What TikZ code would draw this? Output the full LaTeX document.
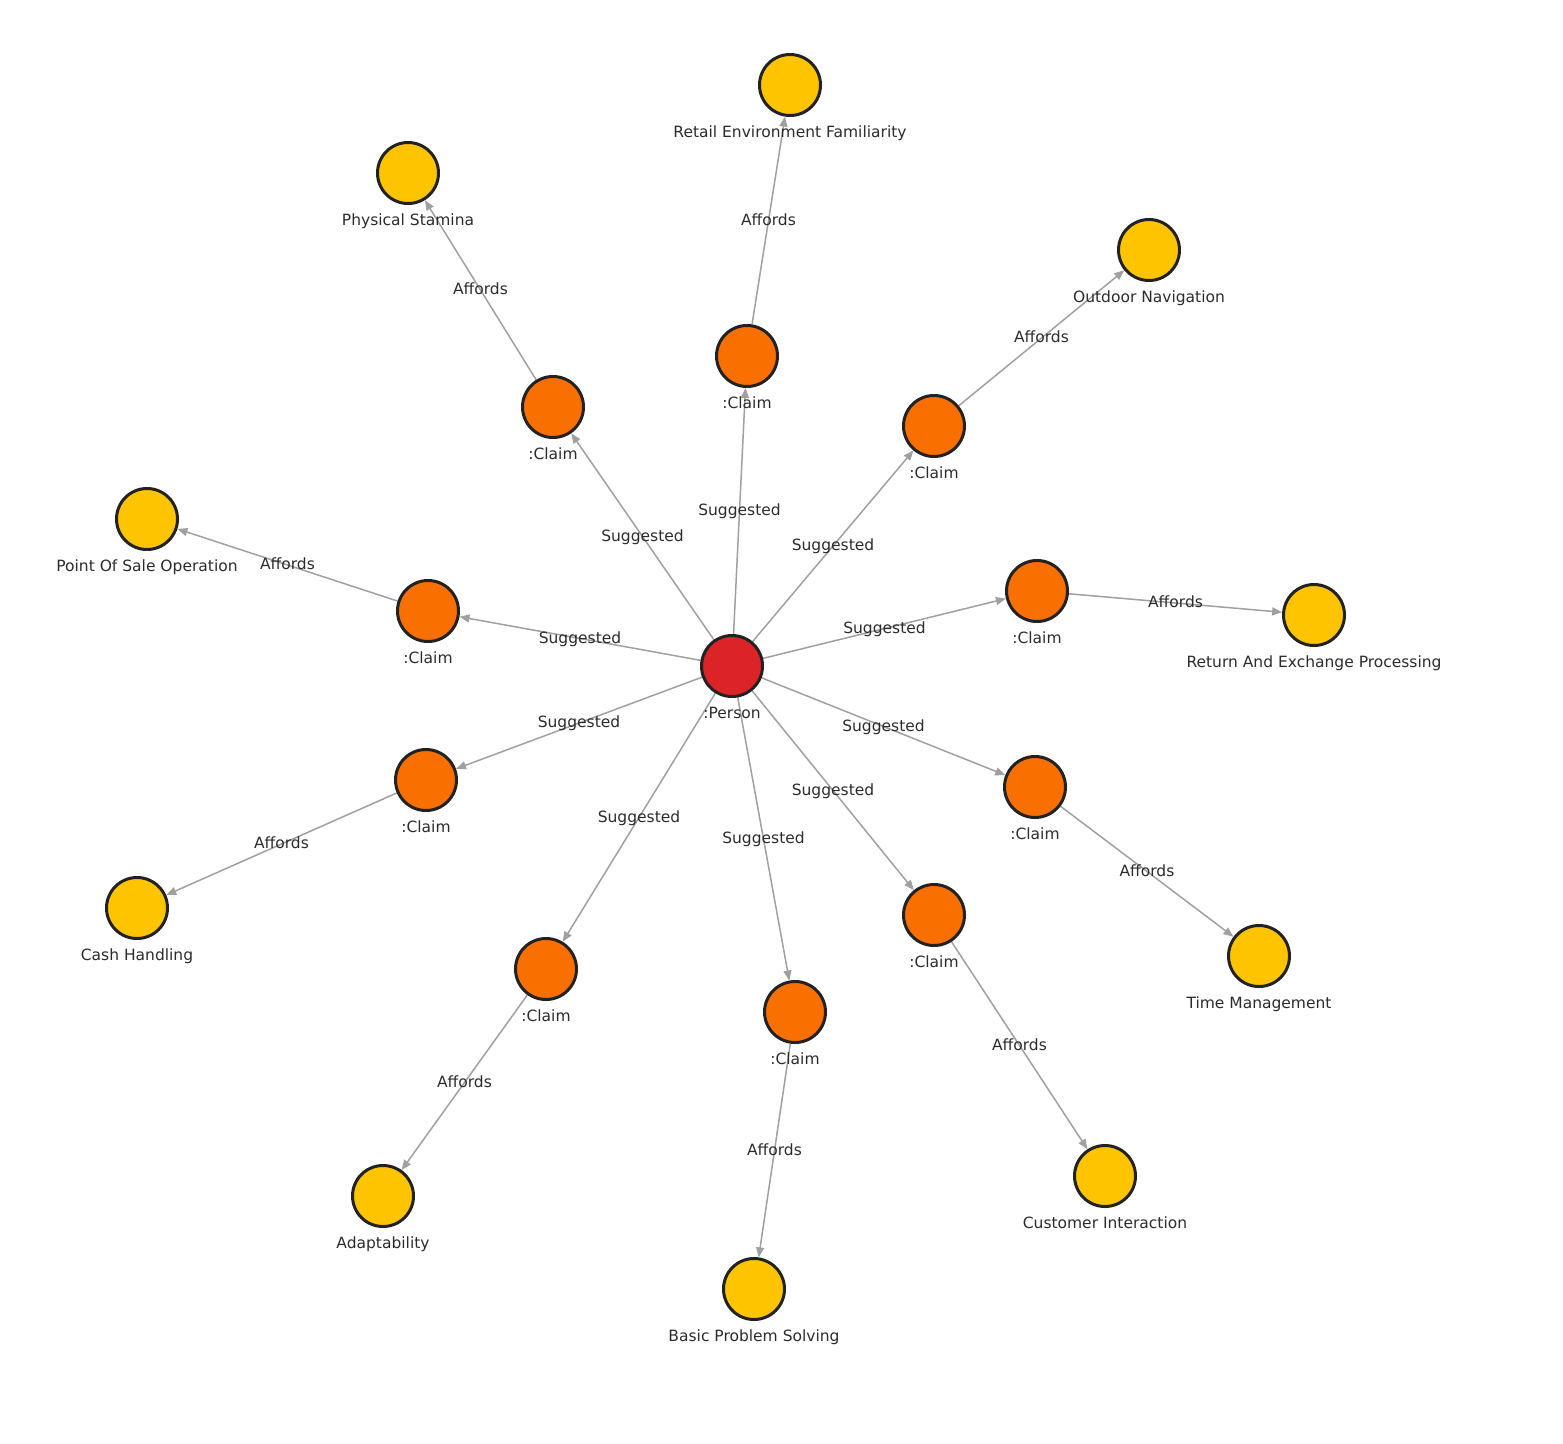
\documentclass[tikz,border=0pt]{standalone}
\usepackage{fontspec}
\setmainfont{DejaVu Sans}
\usetikzlibrary{arrows.meta,backgrounds}
\definecolor{personred}{HTML}{DC2328}
\definecolor{claimorange}{HTML}{F97000}
\definecolor{skillyellow}{HTML}{FFC400}
\definecolor{ringgray}{HTML}{222222}
\definecolor{linkgray}{HTML}{A0A0A0}
\definecolor{textgray}{HTML}{2B2B2B}
\begin{document}
\begin{tikzpicture}[x=1pt,y=-1pt,label distance=9.5pt,
    every node/.style={font=\fontsize{15.5}{18}\selectfont, text=textgray},
    bullet/.style={circle, draw=ringgray, line width=3pt, minimum size=61pt,
              inner sep=0pt},
    tag/.style={text height=11pt, text depth=3.5pt, inner sep=0pt},
    link/.style={draw=linkgray, line width=1.5pt,
              -{Triangle[length=10pt,width=8pt]}},
    edgetext/.style={midway, text height=11pt, text depth=3.5pt, inner sep=0pt,
              yshift=-1pt}]
        \useasboundingbox (0,0) rectangle (1563,1443);
        \node[bullet, fill=personred, label={[tag]below::Person}] (p) at (732,666) {};
        \foreach \i/\cx/\cy/\sx/\sy/\skill in {
            1/747/356/790/85/{Retail Environment Familiarity},
            2/553/407/408/173/{Physical Stamina},
            3/934/426/1149/250/{Outdoor Navigation},
            4/428/611/147/519/{Point Of Sale Operation},
            5/1037/591/1314/615/{Return And Exchange Processing},
            6/426/780/137/908/{Cash Handling},
            7/1035/787/1259/956/{Time Management},
            8/934/915/1105/1176/{Customer Interaction},
            9/546/969/383/1196/{Adaptability},
            10/795/1012/754/1289/{Basic Problem Solving}}{
            \node[bullet, fill=claimorange, label={[tag]below::Claim}] (c\i) at (\cx,\cy) {};
            \node[bullet, fill=skillyellow, label={[tag]below:\skill}] (s\i) at (\sx,\sy) {};
            \begin{scope}[on background layer]
                \draw[link] (p) -- (c\i) node[edgetext] (e\i) {Suggested};
                \draw[link] (c\i) -- (s\i) node[edgetext] (a\i) {Affords};
            \end{scope}
        };
    \end{tikzpicture}
\end{document}
